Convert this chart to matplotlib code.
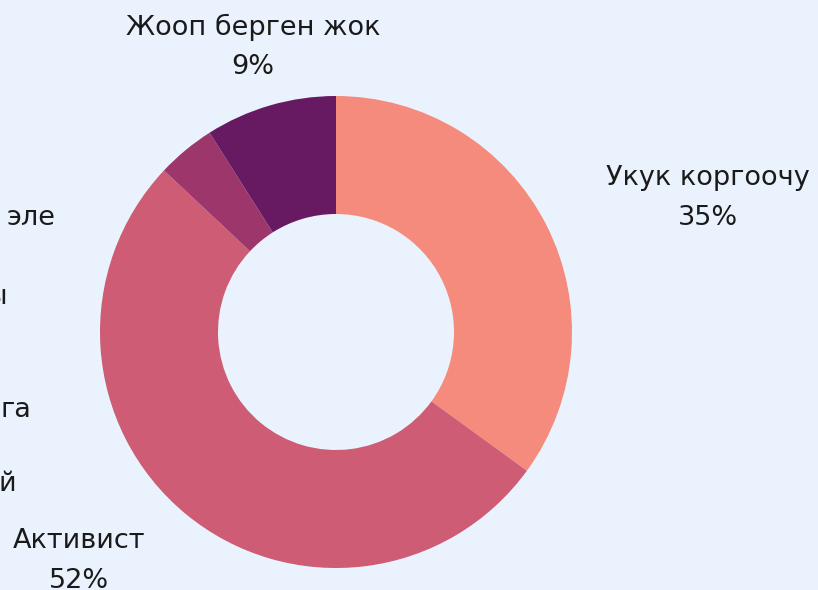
import matplotlib
matplotlib.use("Agg")
import matplotlib.pyplot as plt

# slices, clockwise from 12 o'clock
labels = ["Укук коргоочу", "Активист", "", "Жооп берген жок"]
values = [35, 52, 4, 9]
colors = ["#F58B7C", "#CD5C74", "#9C366B", "#671A61"]

# cut-off legend text on the left edge of the picture
edge_texts = ["эле", "ы", "га", "й"]

BG = "#EAF3FD"
plt.rcParams["font.family"] = ["DejaVu Sans"]

fig = plt.figure(figsize=(8.18, 5.90), dpi=100, facecolor=BG)
ax = fig.add_axes([0, 0, 1, 1])
ax.set_facecolor(BG)

H = 590
cx, cy, r = 336, H - 332, 236
ax.pie(values, colors=colors, startangle=90, counterclock=False,
       center=(cx, cy), radius=r,
       wedgeprops=dict(width=r * 0.5, linewidth=0))
ax.set_xlim(0, 818)
ax.set_ylim(0, H)
ax.set_aspect("equal")
ax.axis("off")

FS = 19.5
TXT = "#1a1a1a"
# label placement (pixel positions from the reference)
pos = {0: (708, 178), 1: (79, 541), 3: (253, 27)}
for i, (x, y) in pos.items():
    ax.text(x, H - y, labels[i], ha="center", va="center", fontsize=FS, color=TXT)
    ax.text(x, H - y - 40, f"{values[i]}%", ha="center", va="center", fontsize=FS, color=TXT)

# left-edge fragments
edge_pos = [(56, 218), (7, 297), (31, 410), (16, 484)]
for t, (x, y) in zip(edge_texts, edge_pos):
    ax.text(x, H - y, t, ha="right", va="center", fontsize=FS, color=TXT)

fig.savefig("out.png", dpi=100, facecolor=BG)
